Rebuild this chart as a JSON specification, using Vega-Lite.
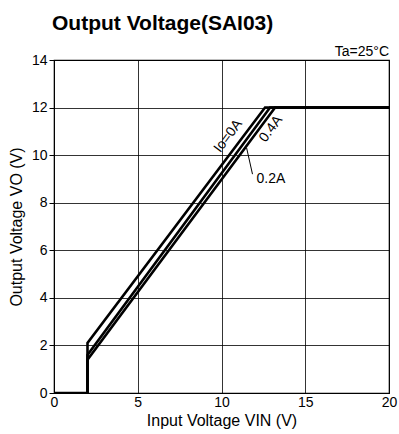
{
  "$schema": "https://vega.github.io/schema/vega-lite/v6.json",
  "width": 335,
  "height": 333,
  "autosize": "none",
  "padding": {"left": 54, "top": 60, "right": 10, "bottom": 41},
  "background": "white",
  "title": {"text": "Output Voltage(SAI03)", "anchor": "start", "frame": "group", "fontSize": 21, "font": "Liberation Sans", "fontWeight": "bold", "color": "#000", "offset": 11, "dx": -2},
  "config": {
    "view": {"stroke": "#000", "strokeWidth": 1.2},
    "axis": {"labelFont": "Liberation Sans", "titleFont": "Liberation Sans", "labelColor": "#000", "titleColor": "#000", "labelFontSize": 14, "titleFontSize": 16, "titleFontWeight": "normal", "gridColor": "#000", "gridOpacity": 1, "gridWidth": 0.8, "domainColor": "#000", "tickColor": "#000"}
  },
  "layer": [
    {
      "data": {"values": [
        {"s": "0A", "o": 1, "x": 0, "y": 0},
        {"s": "0A", "o": 2, "x": 2, "y": 0},
        {"s": "0A", "o": 3, "x": 2, "y": 2.1},
        {"s": "0A", "o": 4, "x": 12.6, "y": 12},
        {"s": "0A", "o": 5, "x": 20, "y": 12},
        {"s": "0.2A", "o": 1, "x": 2, "y": 0},
        {"s": "0.2A", "o": 2, "x": 2, "y": 1.6},
        {"s": "0.2A", "o": 3, "x": 12.9, "y": 12},
        {"s": "0.2A", "o": 4, "x": 20, "y": 12},
        {"s": "0.4A", "o": 1, "x": 2, "y": 0},
        {"s": "0.4A", "o": 2, "x": 2, "y": 1.4},
        {"s": "0.4A", "o": 3, "x": 13.2, "y": 12},
        {"s": "0.4A", "o": 4, "x": 20, "y": 12}
      ]},
      "mark": {"type": "line", "color": "#000", "strokeWidth": 2.6, "clip": true},
      "encoding": {
        "x": {"field": "x", "type": "quantitative", "scale": {"domain": [0, 20], "nice": false}, "axis": {"values": [0, 5, 10, 15, 20], "title": "Input Voltage VIN (V)", "ticks": false, "labelPadding": 2, "titlePadding": 3, "labelFlush": false}},
        "y": {"field": "y", "type": "quantitative", "scale": {"domain": [0, 14], "nice": false}, "axis": {"values": [0, 2, 4, 6, 8, 10, 12, 14], "title": "Output Voltage VO (V)", "tickSize": 5, "labelPadding": 2, "titlePadding": 7, "labelFlush": false}},
        "detail": {"field": "s"},
        "order": {"field": "o"}
      }
    },
    {
      "data": {"values": [
        {"x": 11.5, "y": 10.3},
        {"x": 11.85, "y": 9.2}
      ]},
      "mark": {"type": "line", "color": "#000", "strokeWidth": 1},
      "encoding": {"x": {"field": "x", "type": "quantitative"}, "y": {"field": "y", "type": "quantitative"}}
    },
    {
      "data": {"values": [
        {"t": "Io=0A", "x": 10.4, "y": 10.8, "a": -53},
        {"t": "0.4A", "x": 12.95, "y": 11.1, "a": -53},
        {"t": "0.2A", "x": 12.95, "y": 9.0, "a": 0}
      ]},
      "mark": {"type": "text", "font": "Liberation Sans", "fontSize": 14, "color": "#000", "align": "center", "baseline": "middle"},
      "encoding": {"x": {"field": "x", "type": "quantitative"}, "y": {"field": "y", "type": "quantitative"}, "text": {"field": "t"}, "angle": {"field": "a", "type": "quantitative", "scale": null}}
    },
    {
      "data": {"values": [{"t": "Ta=25°C", "x": 20, "y": 14}]},
      "mark": {"type": "text", "font": "Liberation Sans", "fontSize": 14, "color": "#000", "align": "right", "baseline": "bottom", "dy": -1, "dx": 0},
      "encoding": {"x": {"field": "x", "type": "quantitative"}, "y": {"field": "y", "type": "quantitative"}, "text": {"field": "t"}}
    }
  ]
}
